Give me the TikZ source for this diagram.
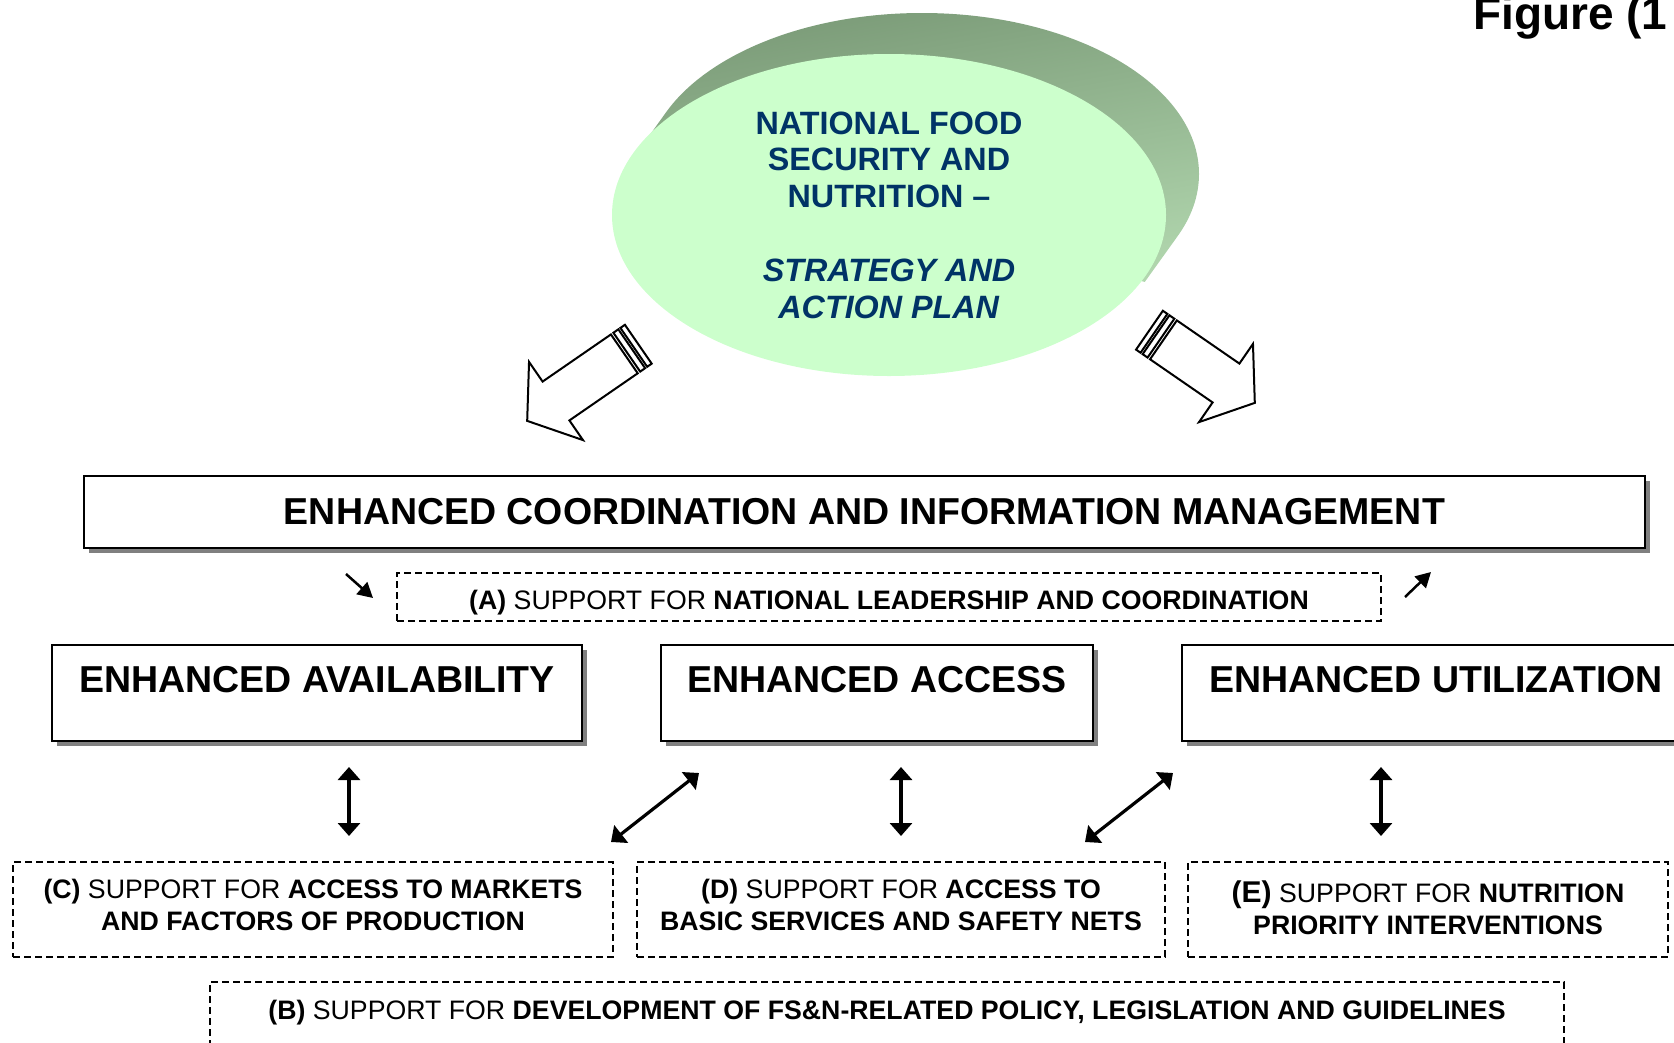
\documentclass[tikz,border=0pt]{standalone}
\usepackage{fontspec}
\setmainfont{Liberation Sans}
\usetikzlibrary{arrows.meta,shapes.geometric,shadows}
\definecolor{navy}{HTML}{003366}
\definecolor{ellfill}{HTML}{CCFFCC}
\definecolor{shdark}{HTML}{7B9B78}
\definecolor{shlight}{HTML}{B8DEB5}
\begin{document}
\begin{tikzpicture}[x=1pt,y=-1pt,
  bigbox/.style={draw=black, line width=2.5pt, fill=white, inner xsep=0pt, inner ysep=0pt,
    drop shadow={shadow xshift=5pt, shadow yshift=-5pt, fill=gray, opacity=1},
    font=\fontsize{37.5}{44}\selectfont\bfseries},
  supbox/.style={draw=black, line width=1.6pt, dash pattern=on 7pt off 4pt, align=center,
    inner sep=0pt, font=\fontsize{26.7}{32}\selectfont},
  blk/.style={draw=black, line width=2pt, fill=white, line join=miter},
  dbl/.style={line width=3.2pt, {Triangle[length=13pt,width=22pt]}-{Triangle[length=13pt,width=22pt]}},
  sm/.style={line width=2.5pt, -{Triangle[length=15pt,width=16pt]}}
]
\useasboundingbox (0,0) rectangle (1674,1042);

% title (cut off at the edge)
\node[anchor=base west, font=\fontsize{46}{50}\selectfont\bfseries, inner sep=0pt] (fig) at (1473,29) {Figure (1};

% 3D part of the ellipse
\shade[shading=axis, top color=shdark, bottom color=shlight, shading angle=10]
  (922,174) ellipse [x radius=277, y radius=161]
  (1144.8,281.9) -- (633.2,158.1) -- (666.2,112.1) -- (1177.8,235.9) -- cycle;
\node[ellipse, fill=ellfill, minimum width=554pt, minimum height=322pt, inner sep=0pt,
  align=center, text=navy, font=\fontsize{32.3}{36.8}\selectfont\bfseries] (nfsn) at (889,215)
  {NATIONAL FOOD\\SECURITY AND\\NUTRITION –\\[36.8pt]\textit{STRATEGY AND}\\\textit{ACTION PLAN}};

% block arrows
\begin{scope}[shift={(556,401)}, rotate=-145.4]
  \draw[blk] (0,-23.6) -- (-83,-23.6) -- (-83,23.6) -- (0,23.6) -- (0,47.5) -- (35,0) -- (0,-47.5) -- cycle;
  \draw[blk] (-86,-23.6) rectangle (-92,23.6);
  \draw[blk] (-94.5,-23.6) rectangle (-100,23.6);
\end{scope}
\begin{scope}[shift={(1226,383)}, rotate=-34.6]
  \draw[blk] (0,-23.6) -- (-76,-23.6) -- (-76,23.6) -- (0,23.6) -- (0,47.5) -- (35,0) -- (0,-47.5) -- cycle;
  \draw[blk] (-79,-23.6) rectangle (-85,23.6);
  \draw[blk] (-87.5,-23.6) rectangle (-93,23.6);
\end{scope}

% main boxes
\node[bigbox, minimum width=1561pt, minimum height=72pt] (coord) at (864.5,512)
  {ENHANCED COORDINATION AND INFORMATION MANAGEMENT};
\node[bigbox, anchor=base, text height=47pt, text depth=49pt, minimum width=530pt] (avail) at (317,692)
  {ENHANCED AVAILABILITY\hspace{8pt}};
\node[bigbox, anchor=base, text height=47pt, text depth=49pt, minimum width=432pt] (access) at (877,692)
  {ENHANCED ACCESS};
\node[bigbox, anchor=base, text height=47pt, text depth=49pt, minimum width=508pt] (util) at (1436,692)
  {ENHANCED UTILIZATION};

% support boxes
\node[supbox, minimum width=984pt, minimum height=48pt] (A) at (889,597)
  {\rule{0pt}{30pt}\textbf{(A)} SUPPORT FOR \textbf{NATIONAL LEADERSHIP AND COORDINATION}};
\node[supbox, minimum width=600pt, minimum height=95pt] (C) at (313,909.5)
  {\textbf{(C)} SUPPORT FOR \textbf{ACCESS TO MARKETS}\\\textbf{AND FACTORS OF PRODUCTION}\rule[-10pt]{0pt}{1pt}};
\node[supbox, minimum width=528pt, minimum height=95pt] (D) at (901,909.5)
  {\textbf{(D)} SUPPORT FOR \textbf{ACCESS TO}\\\textbf{BASIC SERVICES AND SAFETY NETS}\rule[-10pt]{0pt}{1pt}};
\node[supbox, minimum width=480pt, minimum height=95pt] (E) at (1428,909.5)
  {{\fontsize{30}{32}\selectfont\textbf{(E)}} SUPPORT FOR \textbf{NUTRITION}\\\textbf{PRIORITY INTERVENTIONS}\rule[-4pt]{0pt}{1pt}};
\node[supbox, anchor=base, text height=37.6pt, text depth=45pt, minimum width=1354pt] (B) at (887,1019.6)
  {\textbf{(B)} SUPPORT FOR \textbf{DEVELOPMENT OF FS\&N-RELATED POLICY, LEGISLATION AND GUIDELINES}};

% small arrows around (A)
\coordinate (s1a) at (346,574); \coordinate (s1b) at (373,598);
\coordinate (s2a) at (1405,597); \coordinate (s2b) at (1431,572);
\draw[sm] (s1a) -- (s1b);
\draw[sm] (s2a) -- (s2b);

% double arrows
\coordinate (v1t) at (349,767); \coordinate (v1b) at (349,836);
\coordinate (v2t) at (901,767); \coordinate (v2b) at (901,836);
\coordinate (v3t) at (1381,767); \coordinate (v3b) at (1381,836);
\coordinate (d1a) at (611,842); \coordinate (d1b) at (699,773);
\coordinate (d2a) at (1085,842); \coordinate (d2b) at (1173,773);
\draw[dbl] (v1t) -- (v1b);
\draw[dbl] (v2t) -- (v2b);
\draw[dbl] (v3t) -- (v3b);
\draw[dbl] (d1a) -- (d1b);
\draw[dbl] (d2a) -- (d2b);
\end{tikzpicture}
\end{document}
